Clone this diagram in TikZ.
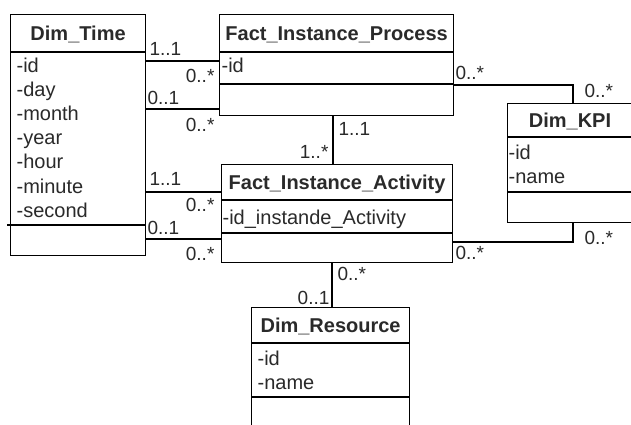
\documentclass[tikz,border=0pt]{standalone}
\usepackage{fontspec}
\setmainfont{Liberation Sans}
\definecolor{txt}{HTML}{2A2A2A}
\begin{document}
\begin{tikzpicture}[x=1pt,y=-1pt, line width=1.2pt,
  cls/.style={draw, rectangle, inner sep=0pt, anchor=north west},
  ttl/.style={font=\bfseries\fontsize{20}{24}\selectfont, text=txt, anchor=base, inner sep=0pt},
  att/.style={font=\fontsize{20}{24}\selectfont, text=txt, anchor=base west, inner sep=0pt},
  mlw/.style={font=\fontsize{19}{24}\selectfont, text=txt, anchor=base west, inner sep=0pt},
  mle/.style={font=\fontsize{19}{24}\selectfont, text=txt, anchor=base east, inner sep=0pt},
]
\useasboundingbox[fill=white] (0,0) rectangle (631,424);

% class boxes
\node[cls, minimum width=135pt, minimum height=241pt] (dt) at (10,14) {};
\node[cls, minimum width=234pt, minimum height=101pt] (fip) at (219,14) {};
\node[cls, minimum width=231pt, minimum height=98pt] (fia) at (221,164) {};
\node[cls, minimum width=130pt, minimum height=119pt] (kpi) at (507,103) {};
\node[cls, minimum width=158pt, minimum height=130pt] (res) at (251,307) {};

% compartment lines
\draw (dt.west |- 0,52) -- (dt.east |- 0,52);
\draw (7,225) -- (dt.east |- 0,225);
\draw (fip.west |- 0,52) -- (fip.east |- 0,52);
\draw (fip.west |- 0,84) -- (fip.east |- 0,84);
\draw (fia.west |- 0,200) -- (fia.east |- 0,200);
\draw (fia.west |- 0,233) -- (fia.east |- 0,233);
\draw (kpi.west |- 0,137) -- (kpi.east |- 0,137);
\draw (kpi.west |- 0,192) -- (kpi.east |- 0,192);
\draw (res.west |- 0,343) -- (res.east |- 0,343);
\draw (res.west |- 0,397) -- (res.east |- 0,397);

% titles
\node[ttl] (dtt) at (dt.center |- 0,40) {Dim\_Time};
\node[ttl] (fipt) at (fip.center |- 0,40) {Fact\_Instance\_Process};
\node[ttl] (fiat) at (fia.center |- 0,189) {Fact\_Instance\_Activity};
\node[ttl] (kpit) at (570,127) {Dim\_KPI};
\node[ttl] (rest) at (res.center |- 0,332) {Dim\_Resource};

% attributes
\node[att] (dta1) at (16,72) {-id};
\node[att] (dta2) at (16,96.2) {-day};
\node[att] (dta3) at (16,120.4) {-month};
\node[att] (dta4) at (16,144.6) {-year};
\node[att] (dta5) at (16,168.8) {-hour};
\node[att] (dta6) at (16,193) {-minute};
\node[att] (dta7) at (16,217.2) {-second};
\node[att] (fipa1) at (221,72) {-id};
\node[att] (fiaa1) at (222,224) {-id\_instande\_Activity};
\node[att] (kpia1) at (508,159) {-id};
\node[att] (kpia2) at (508,183) {-name};
\node[att] (resa1) at (257,365) {-id};
\node[att] (resa2) at (257,389) {-name};

% connectors
\draw (dt.east |- 0,61) -- (fip.west |- 0,61);
\draw (dt.east |- 0,109) -- (fip.west |- 0,109);
\draw (dt.east |- 0,192) -- (fia.west |- 0,192);
\draw (dt.east |- 0,239) -- (fia.west |- 0,239);
\draw (fip.south -| 333,0) -- (fia.north -| 333,0);
\draw (fip.east |- 0,85) -| (kpi.north -| 573,0);
\draw (fia.east |- 0,242) -| (kpi.south -| 573,0);
\draw (fia.south -| 332,0) -- (res.north -| 332,0);

% multiplicities
\node[mlw] (m1) at (149,55) {1..1};
\node[mle] (m2) at (215,82) {0..*};
\node[mlw] (m3) at (147,104) {0..1};
\node[mle] (m4) at (215,131) {0..*};
\node[mlw] (m5) at (149,185) {1..1};
\node[mle] (m6) at (215,211) {0..*};
\node[mlw] (m7) at (147,234) {0..1};
\node[mle] (m8) at (215,260) {0..*};
\node[mlw] (m9) at (338,135) {1..1};
\node[mle] (m10) at (329,158) {1..*};
\node[mlw] (m11) at (455,79) {0..*};
\node[mlw] (m12) at (584,97) {0..*};
\node[mlw] (m13) at (584,244) {0..*};
\node[mlw] (m14) at (455,259) {0..*};
\node[mlw] (m15) at (337,280) {0..*};
\node[mle] (m16) at (330,304) {0..1};
\end{tikzpicture}
\end{document}
